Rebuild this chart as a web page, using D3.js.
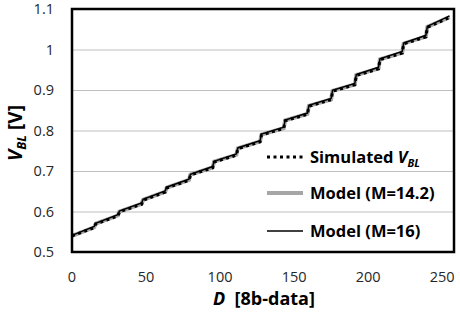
<!DOCTYPE html>
<html>
<head>
<meta charset="utf-8">
<script src="https://cdn.jsdelivr.net/npm/d3@7"></script>
<style>
  body { margin: 0; background: #fff; }
  svg text { font-family: "Open Sans", "DejaVu Sans", sans-serif; }
</style>
</head>
<body>
<svg id="chart" width="460" height="316"></svg>
<script>
// ── Data ──────────────────────────────────────────────────────────────────────
// breakpoints of the staircase: first and last code of each 16-code segment
const codes = [
  0, 15, 16, 31, 32, 47, 48, 63, 64, 79, 80, 95, 96, 111, 112, 127,
  128, 143, 144, 159, 160, 175, 176, 191, 192, 207, 208, 223, 224, 239, 240, 255
];
const vModel16 = [
  0.541, 0.563, 0.571, 0.592, 0.601, 0.621, 0.630, 0.651, 0.660, 0.680, 0.692, 0.711, 0.724, 0.742, 0.757, 0.775,
  0.791, 0.808, 0.826, 0.843, 0.862, 0.879, 0.899, 0.916, 0.938, 0.956, 0.977, 0.995, 1.016, 1.035, 1.057, 1.083
];
const vModel142 = [
  0.540, 0.561, 0.570, 0.590, 0.600, 0.619, 0.629, 0.649, 0.659, 0.678, 0.691, 0.709, 0.723, 0.740, 0.756, 0.773,
  0.790, 0.806, 0.825, 0.841, 0.861, 0.877, 0.898, 0.914, 0.937, 0.953, 0.976, 0.992, 1.015, 1.032, 1.056, 1.080
];
const vSimulated = [
  0.540, 0.560, 0.569, 0.589, 0.599, 0.618, 0.628, 0.648, 0.658, 0.677, 0.690, 0.708, 0.722, 0.739, 0.755, 0.772,
  0.789, 0.805, 0.824, 0.840, 0.860, 0.876, 0.897, 0.913, 0.936, 0.952, 0.975, 0.991, 1.014, 1.031, 1.055, 1.079
];
const xTicks = [0, 50, 100, 150, 200, 250];
const yTicks = [0.5, 0.6, 0.7, 0.8, 0.9, 1.0, 1.1];

// ── Layout ────────────────────────────────────────────────────────────────────
const svg = d3.select("#chart");
const M = { left: 72, top: 9, right: 454, bottom: 252 };

const x = d3.scaleLinear().domain([0, 258]).range([M.left, M.right]);
const y = d3.scaleLinear().domain([0.5, 1.1]).range([M.bottom, M.top]);

svg.append("rect").attr("width", 460).attr("height", 316).attr("fill", "#fff");

// gridlines
svg.append("g")
  .attr("transform", `translate(${M.left},0)`)
  .call(d3.axisLeft(y).tickValues(yTicks).tickSize(-(M.right - M.left)).tickFormat(""))
  .call(g => g.select(".domain").remove())
  .call(g => g.selectAll("line").attr("stroke", "#bfbfbf").attr("stroke-width", 1));

// tick labels
svg.append("g")
  .selectAll("text").data(yTicks).join("text")
  .attr("x", 54).attr("y", d => y(d) + 5)
  .attr("text-anchor", "end")
  .attr("font-size", 14.5).attr("fill", "#262626")
  .text(d => d3.format("~g")(d));

svg.append("g")
  .selectAll("text").data(xTicks).join("text")
  .attr("x", d => x(d)).attr("y", 282)
  .attr("text-anchor", "middle")
  .attr("font-size", 14.5).attr("fill", "#262626")
  .text(d => d);

// ── Series ────────────────────────────────────────────────────────────────────
const line = d3.line().x(d => x(d[0])).y(d => y(d[1]));
const pts = vals => codes.map((c, i) => [c, vals[i]]);

svg.append("path").datum(pts(vModel142)).attr("d", line)
  .attr("fill", "none").attr("stroke", "#a6a6a6").attr("stroke-width", 4);

svg.append("path").datum(pts(vSimulated)).attr("d", line)
  .attr("fill", "none").attr("stroke", "#000").attr("stroke-width", 3)
  .attr("stroke-dasharray", "3,3.5");

svg.append("path").datum(pts(vModel16)).attr("d", line)
  .attr("fill", "none").attr("stroke", "#000").attr("stroke-width", 1.5);

// plot border
svg.append("rect")
  .attr("x", M.left).attr("y", M.top)
  .attr("width", M.right - M.left).attr("height", M.bottom - M.top)
  .attr("fill", "none").attr("stroke", "#000").attr("stroke-width", 2.5);

// ── Axis titles ───────────────────────────────────────────────────────────────
const xt = svg.append("text")
  .attr("x", 264).attr("y", 305)
  .attr("text-anchor", "middle")
  .attr("font-size", 18).attr("font-weight", "bold").attr("fill", "#000");
xt.append("tspan").attr("font-style", "italic").text("D");
xt.append("tspan").attr("xml:space", "preserve").text("  [8b-data]");

const yt = svg.append("text")
  .attr("transform", "translate(22,133) rotate(-90)")
  .attr("text-anchor", "middle")
  .attr("font-size", 19).attr("font-weight", "bold").attr("fill", "#000");
yt.append("tspan").attr("font-style", "italic").text("V");
yt.append("tspan").attr("font-style", "italic").attr("font-size", 13).attr("dy", 4).text("BL");
yt.append("tspan").attr("dy", -4).text(" [V]");

// ── Legend ────────────────────────────────────────────────────────────────────
const legend = [
  { key: "sim",  y: 157, stroke: "#000",    width: 3, dash: "3,3.5" },
  { key: "m142", y: 193, stroke: "#a6a6a6", width: 4, dash: null, label: "Model (M=14.2)" },
  { key: "m16",  y: 231, stroke: "#000",    width: 1.5, dash: null, label: "Model (M=16)" }
];
const lg = svg.append("g").selectAll("g").data(legend).join("g");
lg.append("line")
  .attr("x1", 267).attr("x2", 303)
  .attr("y1", d => d.y).attr("y2", d => d.y)
  .attr("stroke", d => d.stroke).attr("stroke-width", d => d.width)
  .attr("stroke-dasharray", d => d.dash);
const lt = lg.append("text")
  .attr("x", 310).attr("y", d => d.y + 6)
  .attr("font-size", 16.5).attr("font-weight", "bold").attr("fill", "#000");
lt.filter(d => d.label).text(d => d.label);
lt.filter(d => !d.label).each(function () {
  const t = d3.select(this);
  t.append("tspan").text("Simulated ");
  t.append("tspan").attr("font-style", "italic").text("V");
  t.append("tspan").attr("font-style", "italic").attr("font-size", 11).attr("dy", 4).text("BL");
});
</script>
</body>
</html>
